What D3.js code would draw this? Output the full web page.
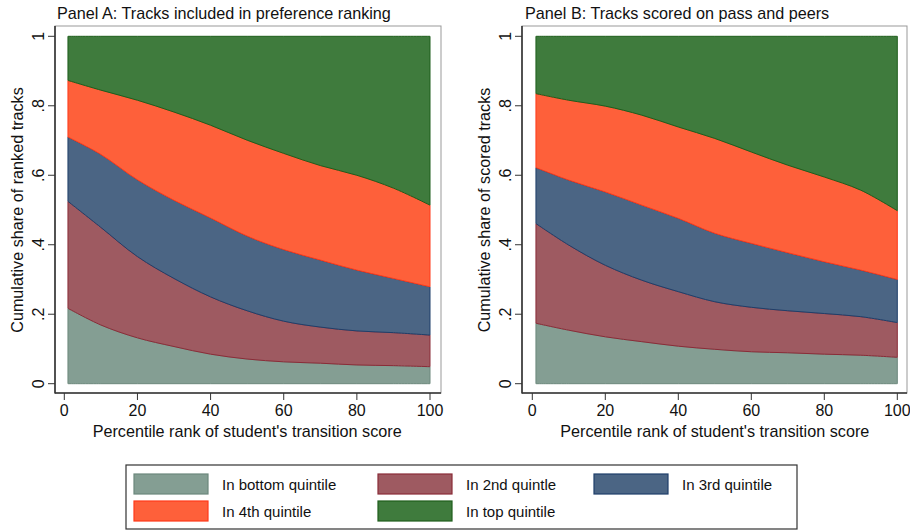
<!DOCTYPE html>
<html><head><meta charset="utf-8">
<script src="https://cdn.jsdelivr.net/npm/d3@7/dist/d3.min.js"></script>
<style>body{margin:0;background:#fff;} text{font-family:"Liberation Sans",Arial,Helvetica,sans-serif;fill:#111;}</style>
</head><body>
<svg id="c" width="910" height="531"></svg>
<script>
const xPoints = [1,10,20,30,40,50,60,70,80,90,100];
const xTicks = [0,20,40,60,80,100];
const yTicks = [0,0.2,0.4,0.6,0.8,1];
const yTickLabels = ["0",".2",".4",".6",".8","1"];
const seriesNames = ["In bottom quintile","In 2nd quintle","In 3rd quintile","In 4th quintile","In top quintile"];
const fills = ["#849e93","#9e5a61","#4b6584","#fe603a","#3f7b3d"];
const strokes = ["#6c887c","#8a2c38","#1f3f6a","#ff3a1a","#1e5e1c"];

// cumulative shares (top edge of each band) - Panel A
const A_bottom = [0.217,0.169,0.132,0.107,0.085,0.071,0.063,0.059,0.054,0.052,0.049];
const A_second = [0.525,0.450,0.366,0.303,0.250,0.210,0.180,0.163,0.152,0.147,0.140];
const A_third  = [0.710,0.660,0.587,0.528,0.477,0.425,0.386,0.356,0.327,0.303,0.279];
const A_fourth = [0.873,0.845,0.816,0.782,0.744,0.701,0.663,0.628,0.600,0.563,0.514];
const A_top    = [1,1,1,1,1,1,1,1,1,1,1];
// Panel B
const B_bottom = [0.174,0.154,0.135,0.121,0.108,0.099,0.092,0.089,0.085,0.082,0.076];
const B_second = [0.461,0.399,0.341,0.298,0.265,0.236,0.220,0.210,0.202,0.193,0.176];
const B_third  = [0.622,0.586,0.552,0.514,0.476,0.433,0.404,0.377,0.351,0.327,0.300];
const B_fourth = [0.835,0.816,0.799,0.773,0.739,0.706,0.667,0.629,0.595,0.557,0.498];
const B_top    = [1,1,1,1,1,1,1,1,1,1,1];

const svg = d3.select("#c");

function panel(cfg){
  const g = svg.append("g");
  const x = d3.scaleLinear().domain([0,100]).range([cfg.x0, cfg.x1]);
  const y = d3.scaleLinear().domain([0,1]).range([383.7, 36.3]);
  const series = cfg.series;
  g.append("rect").attr("x",cfg.fl).attr("y",26).attr("width",cfg.fr-cfg.fl).attr("height",393-26)
    .attr("fill","none").attr("stroke","#999").attr("stroke-width",1);
  const zero = xPoints.map(()=>0);
  for(let i=0;i<series.length;i++){
    const lo = i===0?zero:series[i-1], hi = series[i];
    const pts = xPoints.map((xv,k)=>({x:xv,y0:lo[k],y1:hi[k]}));
    const area = d3.area().x(d=>x(d.x)).y0(d=>y(d.y0)).y1(d=>y(d.y1)).curve(d3.curveCatmullRom.alpha(0.5));
    g.append("path").attr("d",area(pts)).attr("fill",fills[i]).attr("stroke",strokes[i]).attr("stroke-width",1).attr("stroke-linejoin","round");
  }
  g.append("line").attr("x1",cfg.fl).attr("x2",cfg.fl).attr("y1",26).attr("y2",393.5).attr("stroke","#333").attr("stroke-width",1.6);
  g.append("line").attr("x1",cfg.fl).attr("x2",cfg.fr).attr("y1",393).attr("y2",393).attr("stroke","#333").attr("stroke-width",1.6);
  yTicks.forEach((t,i)=>{
    g.append("line").attr("x1",cfg.fl-7).attr("x2",cfg.fl).attr("y1",y(t)).attr("y2",y(t)).attr("stroke","#333").attr("stroke-width",1);
    g.append("text").attr("transform",`translate(${cfg.fl-11},${y(t)}) rotate(-90)`).attr("text-anchor","middle")
      .attr("font-size",16).text(yTickLabels[i]);
  });
  xTicks.forEach(t=>{
    g.append("line").attr("x1",x(t)).attr("x2",x(t)).attr("y1",393).attr("y2",400).attr("stroke","#333").attr("stroke-width",1);
    g.append("text").attr("x",x(t)).attr("y",416).attr("text-anchor","middle").attr("font-size",16).text(t);
  });
  g.append("text").attr("x",(cfg.x0+cfg.x1)/2).attr("y",437).attr("text-anchor","middle").attr("font-size",16.2).text("Percentile rank of student's transition score");
  g.append("text").attr("transform",`translate(${cfg.fl-32},${(36+384)/2}) rotate(-90)`).attr("text-anchor","middle").attr("font-size",16.2).text(cfg.ylab);
  g.append("text").attr("x",cfg.tx).attr("y",19).attr("font-size",16.2).text(cfg.title);
}

panel({x0:64.3,x1:430,fl:55,fr:441,tx:57,title:"Panel A: Tracks included in preference ranking",ylab:"Cumulative share of ranked tracks",
  series:[A_bottom,A_second,A_third,A_fourth,A_top]});
panel({x0:532.3,x1:897.3,fl:522,fr:907,tx:525,title:"Panel B: Tracks scored on pass and peers",ylab:"Cumulative share of scored tracks",
  series:[B_bottom,B_second,B_third,B_fourth,B_top]});

const lg = svg.append("g");
lg.append("rect").attr("x",126).attr("y",465).attr("width",671).attr("height",64).attr("fill","#fff").attr("stroke","#333").attr("stroke-width",1.2);
const legPos = [[134,474],[378,474],[594,474],[134,501],[378,501]];
seriesNames.forEach((n,i)=>{
  const [lx,ly]=legPos[i];
  lg.append("rect").attr("x",lx).attr("y",ly).attr("width",74).attr("height",20).attr("fill",fills[i]).attr("stroke",strokes[i]).attr("stroke-width",1.2);
  lg.append("text").attr("x",lx+88).attr("y",ly+15.5).attr("font-size",15).text(n);
});
</script>
</body></html>
